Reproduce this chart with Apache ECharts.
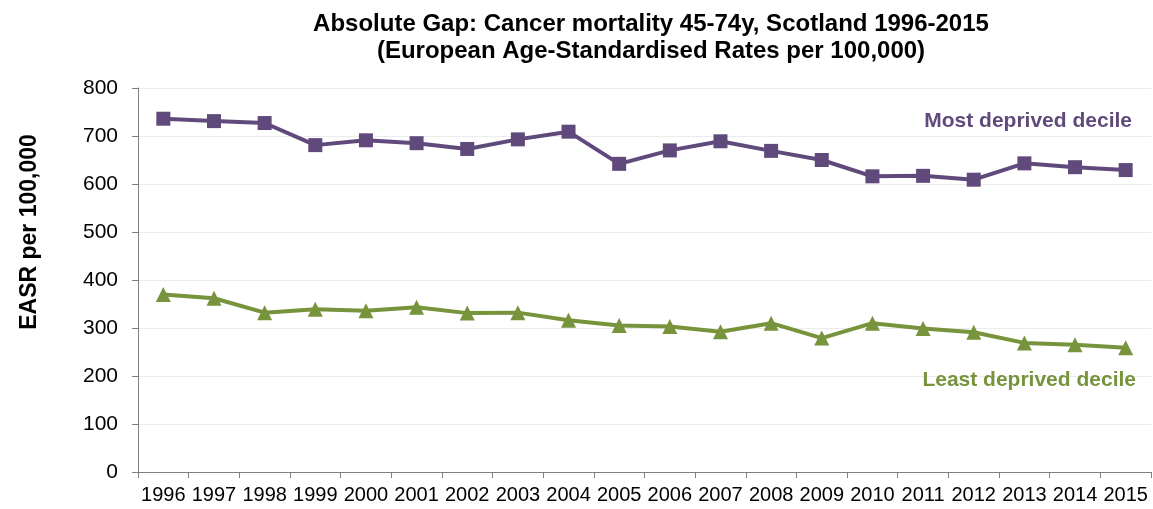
<!DOCTYPE html>
<html>
<head>
<meta charset="utf-8">
<script src="https://cdn.jsdelivr.net/npm/echarts@6/dist/echarts.min.js"></script>
<style>
  html, body { margin: 0; padding: 0; background: #fff; }
  #chart { width: 1153px; height: 509px; }
</style>
</head>
<body>
<div id="chart"></div>
<script>
// years on the x axis
var years = ['1996', '1997', '1998', '1999', '2000', '2001', '2002', '2003', '2004', '2005',
             '2006', '2007', '2008', '2009', '2010', '2011', '2012', '2013', '2014', '2015'];
// EASR per 100,000
var mostDeprived = [736, 731, 727, 681, 691, 685, 673, 693, 709, 642,
                    670, 689, 669, 650, 616, 617, 609, 643, 635, 629];
var leastDeprived = [370, 362, 332, 339, 336, 343, 331, 332, 316, 305,
                     303, 292, 310, 279, 310, 299, 291, 269, 265, 259];
var yTicks = { min: 0, max: 800, step: 100 };

var purple = '#604A7B';
var green = '#77933C';
var font = 'Liberation Sans, Arial, sans-serif';

var myChart = echarts.init(document.getElementById('chart'));

option = {
  backgroundColor: '#ffffff',
  animation: false,
  title: {
    text: 'Absolute Gap: Cancer mortality 45-74y, Scotland 1996-2015\n(European Age-Standardised Rates per 100,000)',
    left: 651,
    top: 11,
    padding: 0,
    textAlign: 'center',
    textStyle: {
      fontFamily: font,
      fontWeight: 'bold',
      fontSize: 24,
      lineHeight: 27,
      color: '#000'
    }
  },
  grid: {
    left: 138,
    right: 2,
    top: 88,
    bottom: 37
  },
  xAxis: {
    type: 'category',
    boundaryGap: true,
    data: years,
    axisLine: { lineStyle: { color: '#808080', width: 1 } },
    axisTick: { show: true, length: 6, lineStyle: { color: '#808080' } },
    axisLabel: {
      interval: 0,
      margin: 13,
      color: '#000',
      fontFamily: font,
      fontSize: 20
    },
    splitLine: { show: false }
  },
  yAxis: {
    type: 'value',
    min: yTicks.min,
    max: yTicks.max,
    interval: yTicks.step,
    axisLine: { show: true, lineStyle: { color: '#808080', width: 1 } },
    axisTick: { show: true, length: 6, lineStyle: { color: '#808080' } },
    axisLabel: {
      margin: 20,
      color: '#000',
      fontFamily: font,
      fontSize: 21
    },
    splitLine: { lineStyle: { color: '#ececec', width: 1 } }
  },
  graphic: [
    {
      type: 'text',
      x: 30,
      y: 232,
      z: 100,
      rotation: Math.PI / 2,
      style: {
        text: 'EASR per 100,000',
        fill: '#000',
        font: 'bold 23px ' + font,
        textAlign: 'center',
        textVerticalAlign: 'middle',
        align: 'center',
        verticalAlign: 'middle'
      }
    },
    {
      type: 'text',
      x: 1132,
      y: 121,
      z: 100,
      style: {
        text: 'Most deprived decile',
        fill: purple,
        font: 'bold 21px ' + font,
        textAlign: 'right',
        textVerticalAlign: 'middle',
        align: 'right',
        verticalAlign: 'middle'
      }
    },
    {
      type: 'text',
      x: 1136,
      y: 380,
      z: 100,
      style: {
        text: 'Least deprived decile',
        fill: green,
        font: 'bold 21px ' + font,
        textAlign: 'right',
        textVerticalAlign: 'middle',
        align: 'right',
        verticalAlign: 'middle'
      }
    }
  ],
  series: [
    {
      name: 'Most deprived decile',
      type: 'line',
      data: mostDeprived,
      symbol: 'rect',
      symbolSize: 14,
      lineStyle: { color: purple, width: 4 },
      itemStyle: { color: purple },
      z: 3
    },
    {
      name: 'Least deprived decile',
      type: 'line',
      data: leastDeprived,
      symbol: 'triangle',
      symbolSize: 15,
      lineStyle: { color: green, width: 4 },
      itemStyle: { color: green },
      z: 3
    }
  ]
};

myChart.setOption(option);
</script>
</body>
</html>
